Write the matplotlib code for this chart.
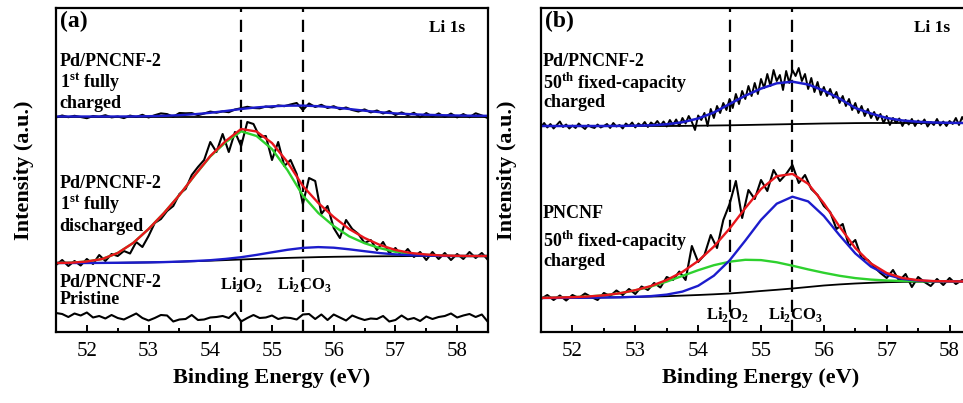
import numpy as np
import matplotlib
matplotlib.use('Agg')
import matplotlib.pyplot as plt
from matplotlib.ticker import MultipleLocator

# binding energy grids (eV)
e_raw = np.linspace(51.5, 58.5, 71)
e_raw_fine = np.linspace(51.5, 58.5, 141)
e_fit = np.linspace(51.5, 58.5, 29)

# ---- panel (a) ----
a_charged_raw = [
    214.5, 216.5, 214.8, 216.2, 215.0, 213.8, 216.0, 215.2, 216.8, 214.6,
    215.5, 213.9, 216.4, 215.0, 217.2, 214.5, 216.8, 218.6, 217.9, 215.2,
    219.0, 218.7, 218.9, 216.8, 218.5, 220.4, 219.3, 220.6, 219.8, 222.5,
    223.8, 225.2, 224.0, 223.7, 225.5, 224.6, 226.6, 225.8, 227.5, 229.0,
    222.0, 228.5, 225.0, 227.2, 224.0, 225.8, 222.8, 224.5, 222.0, 220.5,
    222.6, 219.6, 221.5, 218.5, 220.9, 217.0, 219.6, 216.8, 219.2, 214.8,
    218.9, 215.4, 218.6, 215.0, 218.4, 214.6, 217.9, 214.8, 218.7, 216.5, 213.8]
a_charged_bg = [215.0] * 29
a_charged_fit = [
    215.5, 215.5, 215.5, 215.5, 215.5, 215.6, 215.8, 216.2, 216.8, 217.8,
    219.2, 221.0, 223.0, 224.6, 225.7, 226.3, 226.4, 225.8, 224.6, 223.0,
    221.3, 219.8, 218.6, 217.8, 217.2, 216.8, 216.5, 216.3, 216.2]

a_dis_raw = [
    67, 72, 66, 71, 66.5, 73, 68, 77, 71, 78,
    76, 81, 78.5, 90, 85, 96, 109, 113, 121, 126,
    138, 143, 157, 165, 172, 190, 180, 198, 180, 200,
    186, 210, 208, 195, 196, 172, 190, 166, 172, 158,
    128, 154, 151, 118, 126, 104, 94, 112, 103, 98,
    89, 92, 82, 90, 79, 84, 76, 83, 75, 80,
    72, 80, 73, 79, 72, 78, 73, 80, 74, 79, 72]
a_dis_bg = [
    69.0, 69.0, 69.0, 69.1, 69.2, 69.4, 69.6, 69.9, 70.3, 70.8,
    71.3, 71.9, 72.5, 73.1, 73.6, 74.1, 74.5, 74.9, 75.2, 75.4,
    75.6, 75.7, 75.8, 75.9, 76.0, 76.0, 76.0, 76.0, 76.0]
a_dis_li2o2 = [
    69.0, 69.3, 70.5, 73.0, 79.0, 89.0, 103.0, 119.0, 136.9, 156.8,
    175.5, 189.8, 200.7, 196.0, 182.9, 161.9, 136.4, 119.0, 105.9, 95.7,
    88.8, 83.8, 80.2, 78.1, 77.1, 76.4, 76.0, 76.0, 76.0]
a_dis_li2co3 = [
    69.0, 69.0, 69.0, 69.1, 69.2, 69.4, 69.6, 69.9, 70.4, 71.0,
    71.8, 73.1, 74.8, 77.1, 79.7, 82.2, 84.1, 84.9, 84.3, 82.7,
    80.8, 78.9, 77.6, 76.8, 76.4, 76.1, 76.0, 76.0, 76.0]
a_dis_env = [
    69.0, 69.3, 70.5, 73.0, 79.0, 89.0, 103.0, 119.0, 137.0, 157.0,
    176.0, 191.0, 203.0, 200.5, 189.0, 170.0, 146.0, 129.0, 115.0, 103.0,
    94.0, 87.0, 82.0, 79.0, 77.5, 76.5, 76.2, 76.0, 76.0]

a_pristine_raw = [
    19, 18, 15, 18.5, 16.5, 19.5, 14.5, 16, 13.5, 17,
    14, 12.5, 15.5, 18.5, 14, 11.5, 14, 17, 16.5, 10.5,
    12.5, 13, 17, 12, 12.5, 14.5, 15, 16, 14, 19.5,
    10.5, 14, 17, 14, 14.5, 16.5, 13, 14.5, 14, 12.5,
    17.5, 18, 13, 17.5, 12, 17.5, 14.5, 11.5, 16.5, 14,
    12, 13.5, 13, 16, 10.5, 12, 16.5, 12.5, 14, 11,
    15.5, 13, 15, 16, 18.5, 14.5, 16.5, 18, 15, 17.5, 10]

# ---- panel (b) ----
b_pd_raw = [
    205, 209, 204.5, 208, 203.5, 207, 210.5, 205, 207.5, 203.5,
    206.5, 204, 208.5, 205.5, 203, 207, 205, 204, 207.5, 204.5,
    206, 208, 204, 209, 205.5, 207, 203.5, 208.5, 206, 209.5,
    204.5, 208.5, 206, 210, 205, 209.5, 207, 211, 206.5, 210.5,
    205.5, 212, 207, 212.5, 206, 214, 208.5, 216, 210, 202,
    216.5, 212, 219, 206, 223, 214, 226, 219, 229, 222,
    233, 224, 238, 228, 241, 233, 246, 236, 249, 238,
    253, 244, 258, 246, 262, 251, 257, 242, 261, 249,
    262, 256, 264, 251, 258, 243, 254, 240, 250, 237,
    245, 236, 243, 234, 240, 229, 236, 226, 233, 222,
    229, 219, 226, 216, 223, 214, 220, 212, 218, 209,
    216, 207, 214, 209, 213.5, 206, 212, 207.5, 213, 206,
    211.5, 208, 212.5, 205.5, 210, 207, 213, 206.5, 210.5, 206,
    211, 208, 214, 207, 215, 209, 212, 206, 210.5, 207, 209]
b_pd_bg = [
    206.0, 206.0, 206.0, 206.0, 206.0, 206.0, 206.0, 206.0, 206.0, 206.1,
    206.3, 206.5, 206.7, 207.0, 207.3, 207.6, 207.9, 208.2, 208.5, 208.7,
    208.9, 209.0, 209.0, 209.0, 209.0, 209.0, 209.0, 209.0, 209.0]
b_pd_fit = [
    206.0, 206.0, 206.0, 206.0, 206.0, 206.1, 206.3, 206.7, 207.7, 209.8,
    213.5, 219.5, 228.0, 236.3, 243.4, 248.7, 250.3, 247.5, 241.4, 233.4,
    224.0, 218.5, 214.0, 211.5, 210.2, 209.5, 209.2, 209.0, 209.0]

b_pn_raw = [
    33, 37, 32, 36.5, 31.5, 37, 34, 38.5, 35, 32,
    39, 36, 41.5, 37, 43, 38, 45.5, 42, 49, 44.5,
    55, 52, 60.5, 52, 86, 70, 77, 97, 84, 112,
    128, 151, 114, 142, 133, 152, 141, 162, 151, 158,
    167, 149, 157, 143, 137, 126, 120, 103, 108, 86,
    92, 74, 72, 65, 59, 54, 62, 51, 58, 45,
    55, 50, 46, 53, 47, 54, 48, 52, 46, 51, 54]
b_pn_bg = [
    34.0, 34.1, 34.2, 34.3, 34.5, 34.7, 35.0, 35.4, 35.8, 36.4,
    37.0, 37.7, 38.5, 39.7, 41.0, 42.2, 43.5, 45.0, 46.5, 47.6,
    48.5, 49.2, 49.8, 50.1, 50.3, 50.4, 50.5, 50.5, 50.5]
b_pn_li2o2 = [
    34.1, 34.4, 34.8, 35.5, 36.7, 38.7, 41.6, 45.5, 50.4, 56.1,
    61.8, 66.8, 70.3, 72.2, 71.9, 69.7, 66.3, 62.6, 59.2, 56.2,
    53.9, 52.4, 51.5, 51.0, 50.7, 50.6, 50.6, 50.5, 50.5]
b_pn_li2co3 = [
    34.0, 34.1, 34.2, 34.3, 34.5, 34.7, 35.2, 35.9, 37.4, 40.4,
    46.2, 56.3, 71.6, 91.4, 112.1, 128.3, 135.3, 130.6, 116.0, 96.7,
    78.6, 65.3, 57.3, 53.1, 51.4, 50.7, 50.6, 50.5, 50.5]
b_pn_env = [
    34.1, 34.4, 34.8, 35.5, 36.7, 38.7, 41.8, 46.0, 52.0, 60.1,
    71.0, 85.4, 103.4, 123.9, 143.0, 155.8, 158.1, 148.2, 128.7, 105.3,
    84.0, 68.5, 59.0, 54.0, 51.8, 50.9, 50.7, 50.5, 50.5]

peak_pos = [54.5, 55.5]

RED = '#e8161c'
BLUE = '#1c1ccc'
GREEN = '#2ed12e'

plt.rcParams['font.family'] = 'Liberation Serif'
plt.rcParams['mathtext.fontset'] = 'custom'
plt.rcParams['mathtext.rm'] = 'Liberation Serif'
plt.rcParams['mathtext.bf'] = 'Liberation Serif:bold'

fig = plt.figure(figsize=(9.63, 4.03), dpi=100)
ax_a = fig.add_axes([0.05815, 0.17618, 0.4486, 0.80397])
ax_b = fig.add_axes([0.5618, 0.17618, 0.4569, 0.80397])


def setup(ax, letter, lx):
    ax.set_xlim(51.5, 58.5)
    ax.set_ylim(0, 324)
    ax.set_yticks([])
    ax.xaxis.set_major_locator(MultipleLocator(1))
    ax.xaxis.set_minor_locator(MultipleLocator(0.5))
    ax.tick_params(axis='x', which='both', direction='in', top=False,
                   labelsize=15, pad=7, width=1.4)
    ax.tick_params(axis='x', which='major', length=5)
    ax.tick_params(axis='x', which='minor', length=3)
    for s in ax.spines.values():
        s.set_linewidth(1.6)
    ax.set_xlabel('Binding Energy (eV)', fontsize=16, fontweight='bold', labelpad=5)
    ax.set_ylabel('Intensity (a.u.)', fontsize=16, fontweight='bold')
    ax.yaxis.set_label_coords(lx, 0.5)
    ax.text(51.56, 311, letter, fontsize=17, fontweight='bold', va='center')
    for p in peak_pos:
        ax.axvline(p, color='k', lw=1.6, ls=(0, (5.5, 3.5)), zorder=1)


setup(ax_a, '(a)', -0.05)
setup(ax_b, '(b)', -0.055)

# panel (a)
ax_a.plot(e_raw, a_charged_raw, color='k', lw=1.5)
ax_a.plot(e_fit, a_charged_bg, color='k', lw=1.3)
ax_a.plot(e_fit, a_charged_fit, color=BLUE, lw=1.7)

ax_a.plot(e_raw, a_dis_raw, color='k', lw=1.5)
ax_a.plot(e_fit, a_dis_bg, color='k', lw=1.3)
ax_a.plot(e_fit, a_dis_li2o2, color=GREEN, lw=1.7)
ax_a.plot(e_fit, a_dis_li2co3, color=BLUE, lw=1.7)
ax_a.plot(e_fit, a_dis_env, color=RED, lw=1.7)

ax_a.plot(e_raw, a_pristine_raw, color='k', lw=1.5)

# panel (b)
ax_b.plot(e_raw_fine, b_pd_raw, color='k', lw=1.4)
ax_b.plot(e_fit, b_pd_bg, color='k', lw=1.3)
ax_b.plot(e_fit, b_pd_fit, color=BLUE, lw=1.8)

ax_b.plot(e_raw, b_pn_raw, color='k', lw=1.5)
ax_b.plot(e_fit, b_pn_bg, color='k', lw=1.3)
ax_b.plot(e_fit, b_pn_li2o2, color=GREEN, lw=1.7)
ax_b.plot(e_fit, b_pn_li2co3, color=BLUE, lw=1.7)
ax_b.plot(e_fit, b_pn_env, color=RED, lw=1.7)

kw = dict(fontsize=13, fontweight='bold', va='center')
pk = dict(fontsize=12, fontweight='bold', va='center', ha='center')
ls = dict(fontsize=12.5, fontweight='bold', va='center', ha='right')
ax_a.text(58.13, 304, 'Li 1s', **ls)
ax_a.text(51.56, 270, 'Pd/PNCNF-2', **kw)
ax_a.text(51.56, 249, r'1$^{\mathbf{st}}$ fully', **kw)
ax_a.text(51.56, 228, 'charged', **kw)
ax_a.text(51.56, 148, 'Pd/PNCNF-2', **kw)
ax_a.text(51.56, 127, r'1$^{\mathbf{st}}$ fully', **kw)
ax_a.text(51.56, 105, 'discharged', **kw)
ax_a.text(51.56, 49, 'Pd/PNCNF-2', **kw)
ax_a.text(51.56, 32, 'Pristine', **kw)
ax_a.text(54.5, 47, r'Li$_{\mathbf{2}}$O$_{\mathbf{2}}$', **pk)
ax_a.text(55.53, 47, r'Li$_{\mathbf{2}}$CO$_{\mathbf{3}}$', **pk)

ax_b.text(58.01, 304, 'Li 1s', **ls)
ax_b.text(51.53, 270, 'Pd/PNCNF-2', **kw)
ax_b.text(51.53, 249, r'50$^{\mathbf{th}}$ fixed-capacity', **kw)
ax_b.text(51.53, 229, 'charged', **kw)
ax_b.text(51.53, 118, 'PNCNF', **kw)
ax_b.text(51.53, 91, r'50$^{\mathbf{th}}$ fixed-capacity', **kw)
ax_b.text(51.53, 70, 'charged', **kw)
ax_b.text(54.47, 17, r'Li$_{\mathbf{2}}$O$_{\mathbf{2}}$', **pk)
ax_b.text(55.55, 17, r'Li$_{\mathbf{2}}$CO$_{\mathbf{3}}$', **pk)

fig.savefig('out.png', dpi=100)
